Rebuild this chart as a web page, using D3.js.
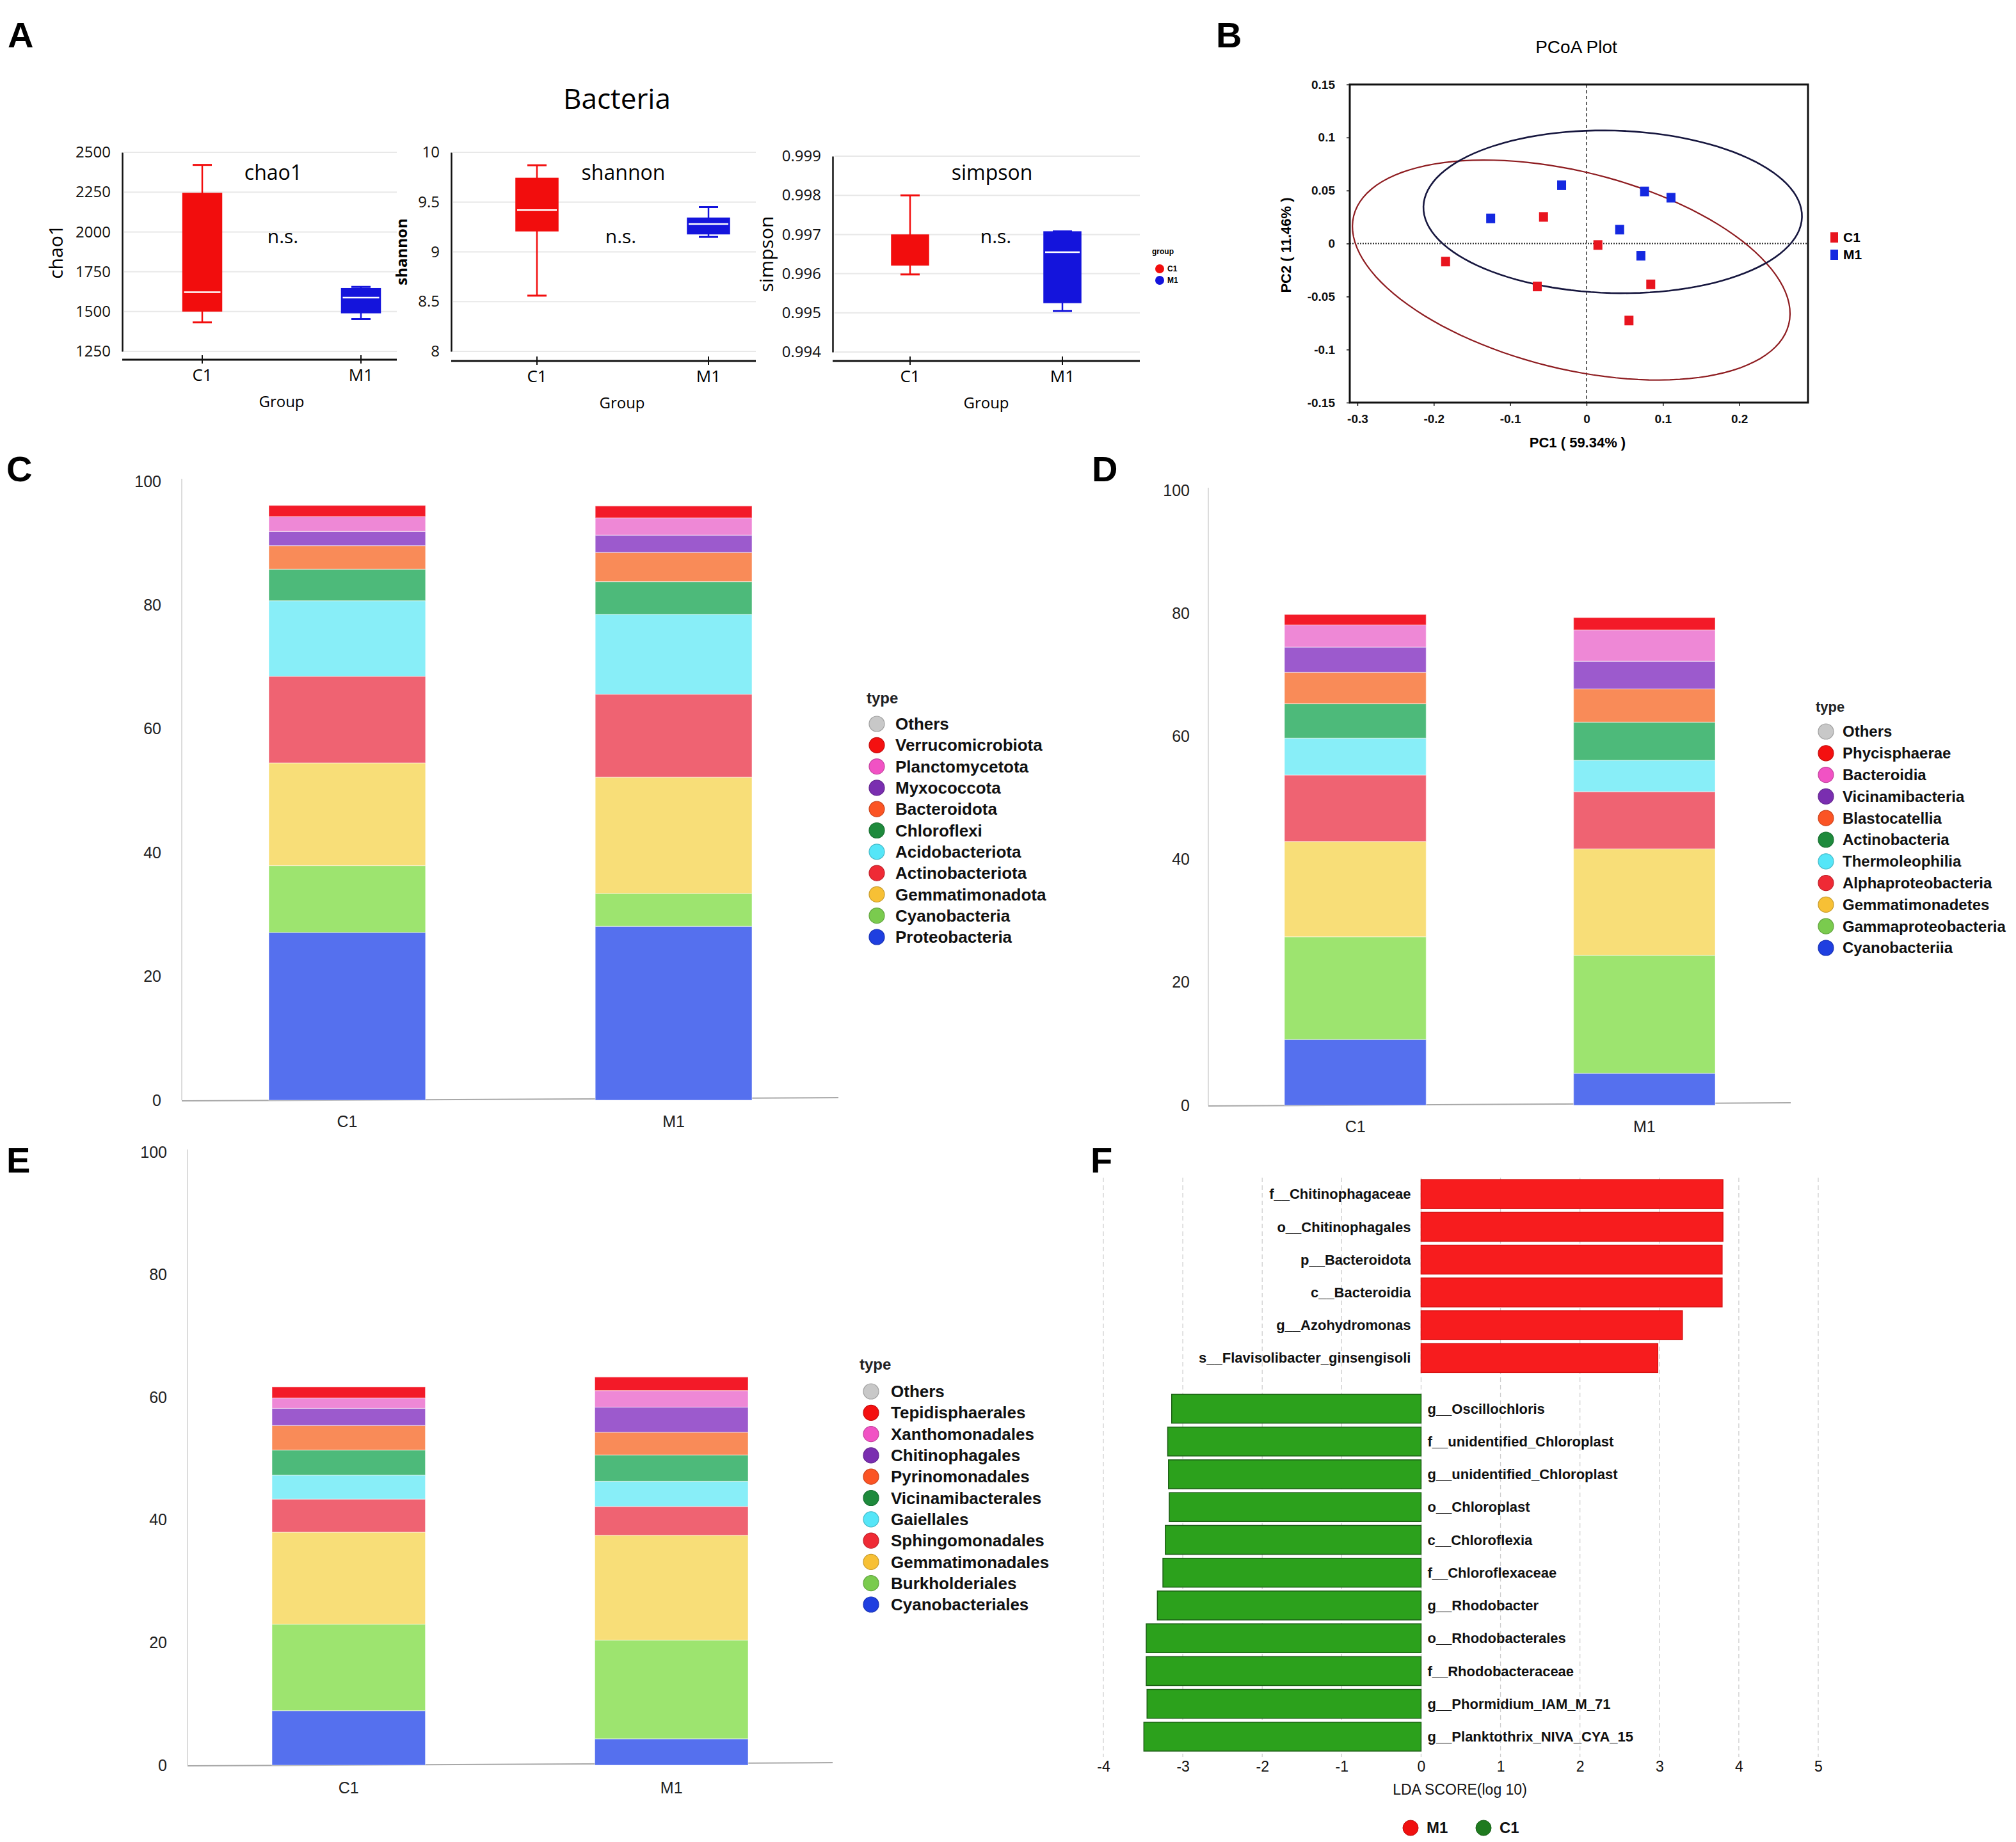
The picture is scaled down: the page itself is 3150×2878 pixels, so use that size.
<!DOCTYPE html>
<html>
<head>
<meta charset="utf-8">
<script src="https://cdn.jsdelivr.net/npm/d3@7"></script>
<style>
    body { margin: 0; background: #fff; }
    svg { display: block; }
</style>
</head>
<body>
<div id="chart"></div>
<script>
// ---------- data ----------
const groups = ['C1', 'M1']
const groupColors = ['#F20D0D', '#1414DC']

// box stats: [min, q1, median, q3, max] per group
const chao1Stats = [[1432, 1503, 1622, 2243, 2421], [1453, 1492, 1588, 1645, 1655]]
const shannonStats = [[8.56, 9.21, 9.42, 9.74, 9.87], [9.15, 9.18, 9.28, 9.34, 9.45]]
const simpsonStats = [[0.99598, 0.99622, 0.99699, 0.99699, 0.99800], [0.99505, 0.99526, 0.99655, 0.99707, 0.99708]]
const chao1Ticks = [1250, 1500, 1750, 2000, 2250, 2500]
const shannonTicks = [8, 8.5, 9, 9.5, 10]
const simpsonTicks = [0.994, 0.995, 0.996, 0.997, 0.998, 0.999]

// PCoA points [PC1, PC2]
const pcoaC1 = [[-0.0563, 0.0254], [0.0149, -0.0011], [-0.1845, -0.0167], [-0.0645, -0.0402], [0.0841, -0.0382], [0.0556, -0.0723]]
const pcoaM1 = [[-0.0326, 0.0553], [-0.1255, 0.0240], [0.0760, 0.0494], [0.1106, 0.0435], [0.0434, 0.0134], [0.0712, -0.0112]]
// ellipse: centre x, centre y, major axis vector, minor axis vector (data units)
const ellipseC1 = [-0.020, -0.025, 0.2848, -0.0512, -0.0312, -0.0902]
const ellipseM1 = [0.0343, 0.0299, 0.2478, -0.0050, -0.0029, -0.0766]
const pcoaXTicks = [-0.3, -0.2, -0.1, 0, 0.1, 0.2]
const pcoaYTicks = [-0.15, -0.1, -0.05, 0, 0.05, 0.1, 0.15]

// relative abundance, listed bottom to top
const phylumNames = ['Proteobacteria', 'Cyanobacteria', 'Gemmatimonadota', 'Actinobacteriota', 'Acidobacteriota', 'Chloroflexi', 'Bacteroidota', 'Myxococcota', 'Planctomycetota', 'Verrucomicrobiota']
const phylumC1 = [27.1, 10.8, 16.6, 14.0, 12.2, 5.1, 3.8, 2.3, 2.4, 1.8]
const phylumM1 = [28.1, 5.3, 18.8, 13.4, 12.9, 5.3, 4.7, 2.8, 2.8, 1.9]

const classNames = ['Cyanobacteriia', 'Gammaproteobacteria', 'Gemmatimonadetes', 'Alphaproteobacteria', 'Thermoleophilia', 'Actinobacteria', 'Blastocatellia', 'Vicinamibacteria', 'Bacteroidia', 'Phycisphaerae']
const classC1 = [10.7, 16.7, 15.5, 10.8, 6.0, 5.6, 5.1, 4.1, 3.6, 1.7]
const classM1 = [5.2, 19.2, 17.3, 9.3, 5.1, 6.2, 5.4, 4.5, 5.1, 2.0]

const orderNames = ['Cyanobacteriales', 'Burkholderiales', 'Gemmatimonadales', 'Sphingomonadales', 'Gaiellales', 'Vicinamibacterales', 'Pyrinomonadales', 'Chitinophagales', 'Xanthomonadales', 'Tepidisphaerales']
const orderC1 = [8.9, 14.1, 15.0, 5.4, 3.9, 4.1, 4.0, 2.8, 1.7, 1.8]
const orderM1 = [4.3, 16.1, 17.1, 4.7, 4.1, 4.3, 3.7, 4.1, 2.7, 2.2]

const abundanceTicks = [0, 20, 40, 60, 80, 100]
const segmentColors = ['#5570EE', '#9DE46F', '#F8DE78', '#EF6372', '#88EEF8', '#4DBA7A', '#F98B58', '#9C5ACD', '#EE88D6', '#F31A28']
const dotColors = ['#1F3FE0', '#7ACB4E', '#F7C035', '#EF2A35', '#55E6F8', '#1E8A3C', '#FB5424', '#7A2EB0', '#F152C4', '#F41010']

// LEfSe
const ldaNames = ['f__Chitinophagaceae', 'o__Chitinophagales', 'p__Bacteroidota', 'c__Bacteroidia', 'g__Azohydromonas', 's__Flavisolibacter_ginsengisoli',
    'g__Oscillochloris', 'f__unidentified_Chloroplast', 'g__unidentified_Chloroplast', 'o__Chloroplast', 'c__Chloroflexia', 'f__Chloroflexaceae',
    'g__Rhodobacter', 'o__Rhodobacterales', 'f__Rhodobacteraceae', 'g__Phormidium_IAM_M_71', 'g__Planktothrix_NIVA_CYA_15']
const ldaScores = [3.80, 3.80, 3.79, 3.79, 3.29, 2.98, -3.14, -3.19, -3.18, -3.17, -3.22, -3.25, -3.32, -3.46, -3.46, -3.45, -3.49]
const ldaTicks = [-4, -3, -2, -1, 0, 1, 2, 3, 4, 5]

// ---------- layout ----------
const SANS = '"Liberation Sans", Arial, sans-serif'
const NARROW = '"Liberation Sans Narrow", "Liberation Sans", Arial, sans-serif'
const MYRIAD = '"Open Sans", "Noto Sans", sans-serif'

const svg = d3.select('#chart').append('svg')
    .attr('width', 3150)
    .attr('height', 2878)
    .attr('viewBox', '0 0 3150 2878')
    .style('background', '#fff')

const letters = [['A', 12, 74], ['B', 1900, 74], ['C', 10, 752], ['D', 1706, 752], ['E', 10, 1832], ['F', 1704, 1832]]
svg.selectAll('text.letter').data(letters).join('text')
    .attr('class', 'letter')
    .attr('x', d => d[1])
    .attr('y', d => d[2])
    .attr('font-family', SANS)
    .attr('font-weight', 'bold')
    .attr('font-size', 56)
    .text(d => d[0])

// ---------- A: alpha diversity ----------
svg.append('text')
    .attr('x', 964).attr('y', 170)
    .attr('text-anchor', 'middle')
    .attr('font-family', MYRIAD)
    .attr('font-size', 44)
    .text('Bacteria')

function boxPanel(o) {
    const y = d3.scaleLinear().domain(o.domain).range([o.bottom, o.top])
    const x = d3.scalePoint().domain(groups).range(o.centers)
    const g = svg.append('g').attr('font-family', MYRIAD)

    g.append('g').selectAll('line').data(o.ticks).join('line')
        .attr('x1', o.left + 3).attr('x2', o.right)
        .attr('y1', d => y(d)).attr('y2', d => y(d))
        .attr('stroke', '#e8e8e8').attr('stroke-width', 2)

    const ax = g.append('g')
        .attr('transform', `translate(${o.left},0)`)
        .call(d3.axisLeft(y).tickValues(o.ticks).tickSize(0).tickPadding(18).tickFormat(o.format))
    ax.select('.domain').attr('stroke', '#111').attr('stroke-width', 2.5)
    ax.selectAll('text').attr('font-size', 24).attr('fill', '#111').attr('font-family', MYRIAD)

    g.append('line')
        .attr('x1', o.left).attr('x2', o.right)
        .attr('y1', o.base).attr('y2', o.base)
        .attr('stroke', '#111').attr('stroke-width', 3)
    g.selectAll('line.gt').data(groups).join('line')
        .attr('class', 'gt')
        .attr('x1', d => x(d)).attr('x2', d => x(d))
        .attr('y1', o.base - 7).attr('y2', o.base + 6)
        .attr('stroke', '#111').attr('stroke-width', 2)
    g.selectAll('text.gl').data(groups).join('text')
        .attr('class', 'gl')
        .attr('x', d => x(d)).attr('y', o.base + 33)
        .attr('text-anchor', 'middle')
        .attr('font-size', 26)
        .text(d => d)
    g.append('text')
        .attr('x', o.groupX).attr('y', o.base + 74)
        .attr('text-anchor', 'middle').attr('font-size', 24)
        .text('Group')
    g.append('text')
        .attr('transform', `translate(${o.labelX},${(o.top + o.bottom) / 2}) rotate(-90)`)
        .attr('text-anchor', 'middle')
        .attr('font-size', o.labelSize)
        .attr('font-weight', o.labelWeight)
        .text(o.name)
    g.append('text')
        .attr('x', o.titleX).attr('y', 281)
        .attr('text-anchor', 'middle').attr('font-size', 32)
        .text(o.name)
    g.append('text')
        .attr('x', o.nsX).attr('y', 380)
        .attr('text-anchor', 'middle').attr('font-size', 30)
        .text('n.s.')

    o.stats.forEach((s, i) => {
        const cx = x(groups[i])
        const c = groupColors[i]
        const hw = o.boxWidth / 2
        g.append('line').attr('x1', cx).attr('x2', cx).attr('y1', y(s[4])).attr('y2', y(s[3]))
            .attr('stroke', c).attr('stroke-width', 2.5)
        g.append('line').attr('x1', cx).attr('x2', cx).attr('y1', y(s[1])).attr('y2', y(s[0]))
            .attr('stroke', c).attr('stroke-width', 2.5)
        g.selectAll(null).data([s[0], s[4]]).join('line')
            .attr('x1', cx - 15).attr('x2', cx + 15)
            .attr('y1', d => y(d)).attr('y2', d => y(d))
            .attr('stroke', c).attr('stroke-width', 3)
        g.append('rect')
            .attr('x', cx - hw).attr('y', y(s[3]))
            .attr('width', o.boxWidth).attr('height', y(s[1]) - y(s[3]))
            .attr('fill', c).attr('stroke', c).attr('stroke-width', 1.5)
        if (s[2] > s[1] && s[2] < s[3]) {
            g.append('line')
                .attr('x1', cx - hw + 2).attr('x2', cx + hw - 2)
                .attr('y1', y(s[2])).attr('y2', y(s[2]))
                .attr('stroke', '#fff').attr('stroke-width', 2.5)
        }
    })
}

boxPanel({
    name: 'chao1', stats: chao1Stats, domain: [1250, 2500], ticks: chao1Ticks, format: d3.format('d'),
    left: 191, right: 620, top: 238, bottom: 549, base: 562, centers: [316, 564], boxWidth: 61,
    labelX: 98, labelSize: 30, labelWeight: 'normal', titleX: 427, nsX: 442, groupX: 440
})
boxPanel({
    name: 'shannon', stats: shannonStats, domain: [8, 10], ticks: shannonTicks, format: d => String(d),
    left: 705, right: 1181, top: 238, bottom: 549, base: 564, centers: [839, 1107], boxWidth: 66,
    labelX: 636, labelSize: 24, labelWeight: 'bold', titleX: 974, nsX: 970, groupX: 972
})
boxPanel({
    name: 'simpson', stats: simpsonStats, domain: [0.994, 0.999], ticks: simpsonTicks, format: d3.format('.3f'),
    left: 1301, right: 1781, top: 244, bottom: 550, base: 564, centers: [1422, 1660], boxWidth: 58,
    labelX: 1208, labelSize: 30, labelWeight: 'normal', titleX: 1550, nsX: 1556, groupX: 1541
})

// group legend of panel A
const legA = svg.append('g').attr('font-family', SANS).attr('font-weight', 'bold')
legA.append('text').attr('x', 1800).attr('y', 397).attr('font-size', 12).text('group')
legA.selectAll('circle').data(groups).join('circle')
    .attr('cx', 1812).attr('cy', (d, i) => 420 + i * 18).attr('r', 7)
    .attr('fill', (d, i) => groupColors[i])
legA.selectAll('text.l').data(groups).join('text')
    .attr('class', 'l')
    .attr('x', 1824).attr('y', (d, i) => 424 + i * 18)
    .attr('font-size', 12).text(d => d)

// ---------- B: PCoA ----------
const px = d3.scaleLinear().domain([-0.31, 0.29]).range([2109, 2825])
const py = d3.scaleLinear().domain([-0.15, 0.15]).range([629, 132])
const gB = svg.append('g').attr('font-family', SANS)

gB.append('text').attr('x', 2463).attr('y', 83).attr('text-anchor', 'middle')
    .attr('font-size', 28).text('PCoA Plot')

gB.append('line').attr('x1', px(0)).attr('x2', px(0)).attr('y1', py(0.15)).attr('y2', py(-0.15))
    .attr('stroke', '#333').attr('stroke-width', 1.5).attr('stroke-dasharray', '5,4')
gB.append('line').attr('x1', px(-0.31)).attr('x2', px(0.29)).attr('y1', py(0)).attr('y2', py(0))
    .attr('stroke', '#333').attr('stroke-width', 1.8).attr('stroke-dasharray', '2,2')

const ellipseLine = d3.line().curve(d3.curveLinearClosed)
function ellipsePoints(e) {
    return d3.range(0, 360, 3).map(a => {
        const t = a * Math.PI / 180
        return [px(e[0] + e[2] * Math.cos(t) + e[4] * Math.sin(t)), py(e[1] + e[3] * Math.cos(t) + e[5] * Math.sin(t))]
    })
}
gB.append('path').attr('d', ellipseLine(ellipsePoints(ellipseC1)))
    .attr('fill', 'none').attr('stroke', '#8E1C20').attr('stroke-width', 2.2)
gB.append('path').attr('d', ellipseLine(ellipsePoints(ellipseM1)))
    .attr('fill', 'none').attr('stroke', '#16163E').attr('stroke-width', 2.6)

const pcoaColors = ['#E8141E', '#1428E0']
;[pcoaC1, pcoaM1].forEach((pts, i) => {
    gB.selectAll(null).data(pts).join('rect')
        .attr('x', d => px(d[0]) - 7).attr('y', d => py(d[1]) - 7)
        .attr('width', 14).attr('height', 15)
        .attr('fill', pcoaColors[i])
})

gB.append('rect').attr('x', px(-0.31)).attr('y', py(0.15))
    .attr('width', px(0.29) - px(-0.31)).attr('height', py(-0.15) - py(0.15))
    .attr('fill', 'none').attr('stroke', '#111').attr('stroke-width', 3)

const bY = gB.append('g').attr('transform', `translate(${px(-0.31)},0)`)
    .call(d3.axisLeft(py).tickValues(pcoaYTicks).tickSize(5).tickPadding(18).tickFormat(d => String(d)))
const bX = gB.append('g').attr('transform', `translate(0,${py(-0.15)})`)
    .call(d3.axisBottom(px).tickValues(pcoaXTicks).tickSize(5).tickPadding(14).tickFormat(d => String(d)))
;[bX, bY].forEach(a => {
    a.select('.domain').remove()
    a.selectAll('line').attr('stroke', '#111').attr('stroke-width', 1.5)
    a.selectAll('text').attr('font-family', NARROW).attr('font-weight', 'bold').attr('font-size', 19).attr('fill', '#111')
})
gB.append('text').attr('x', 2465).attr('y', 699).attr('text-anchor', 'middle')
    .attr('font-family', NARROW).attr('font-size', 22).attr('font-weight', 'bold').text('PC1 ( 59.34% )')
gB.append('text').attr('transform', 'translate(2017,383) rotate(-90)').attr('text-anchor', 'middle')
    .attr('font-family', NARROW).attr('font-size', 22).attr('font-weight', 'bold').text('PC2 ( 11.46% )')

gB.selectAll('rect.leg').data(groups).join('rect')
    .attr('class', 'leg')
    .attr('x', 2860).attr('y', (d, i) => 363 + i * 27)
    .attr('width', 12).attr('height', 16)
    .attr('fill', (d, i) => pcoaColors[i])
gB.selectAll('text.leg').data(groups).join('text')
    .attr('class', 'leg')
    .attr('x', 2880).attr('y', (d, i) => 378 + i * 27)
    .attr('font-family', NARROW).attr('font-weight', 'bold').attr('font-size', 21)
    .text(d => d)

// ---------- C, D, E: stacked bars ----------
function stackPanel(o) {
    const rows = groups.map((grp, i) => {
        const r = { group: grp }
        o.names.forEach((n, j) => { r[n] = o.values[i][j] })
        return r
    })
    const series = d3.stack().keys(o.names)(rows)
    const x = d3.scaleBand().domain(groups).range(o.xRange).paddingInner(o.pad)
    const y = d3.scaleLinear().domain([0, 100]).range([o.bottom, o.top])
    const g = svg.append('g')

    g.append('line').attr('x1', o.axisX).attr('x2', o.axisX).attr('y1', y(100) - 4).attr('y2', y(0))
        .attr('stroke', '#d0d0d0').attr('stroke-width', 1.5)
    g.append('line').attr('x1', o.axisX).attr('x2', o.axisRight).attr('y1', y(0) + 1).attr('y2', y(0) - 4)
        .attr('stroke', '#a8a8a8').attr('stroke-width', 2)

    const ay = g.append('g').attr('transform', `translate(${o.axisX},0)`)
        .call(d3.axisLeft(y).tickValues(abundanceTicks).tickSize(0).tickPadding(o.tickPad))
    ay.select('.domain').remove()
    ay.selectAll('text').attr('font-family', NARROW).attr('font-size', 25).attr('fill', '#222')

    const ax = g.append('g').attr('transform', `translate(0,${y(0)})`)
        .call(d3.axisBottom(x).tickSize(0).tickPadding(o.labelPad))
    ax.select('.domain').remove()
    ax.selectAll('text').attr('font-family', NARROW).attr('font-size', 25).attr('fill', '#222')

    g.selectAll('g.layer').data(series).join('g')
        .attr('class', 'layer')
        .attr('fill', (d, i) => segmentColors[i])
        .selectAll('rect').data(d => d).join('rect')
        .attr('x', d => x(d.data.group))
        .attr('width', x.bandwidth())
        .attr('y', d => y(d[1]))
        .attr('height', d => y(d[0]) - y(d[1]))
        .attr('stroke', '#ffffff').attr('stroke-opacity', 0.45).attr('stroke-width', 1.2)

    const items = ['Others'].concat(o.names.slice().reverse())
    const colors = ['#C8C8C8'].concat(dotColors.slice().reverse())
    const leg = g.append('g').attr('font-family', SANS).attr('font-weight', 'bold')
    leg.append('text').attr('x', o.legX).attr('y', o.legTitleY).attr('dy', '0.35em')
        .attr('font-size', o.legFont - 2).attr('fill', '#222').text('type')
    leg.selectAll('circle').data(items).join('circle')
        .attr('cx', o.dotX).attr('cy', (d, i) => o.legY + i * o.legStep)
        .attr('r', 12)
        .attr('fill', (d, i) => colors[i])
        .attr('stroke', (d, i) => d3.color(colors[i]).darker(0.6)).attr('stroke-width', 1.2)
    leg.selectAll('text.it').data(items).join('text')
        .attr('class', 'it')
        .attr('x', o.textX).attr('y', (d, i) => o.legY + i * o.legStep)
        .attr('dy', '0.35em')
        .attr('font-size', o.legFont).attr('fill', '#111')
        .text(d => d)
}

stackPanel({
    names: phylumNames, values: [phylumC1, phylumM1],
    xRange: [420, 1175], pad: 0.52, top: 752, bottom: 1719, axisX: 284, axisRight: 1310, tickPad: 32, labelPad: 24,
    legX: 1354, legTitleY: 1091, legY: 1131, legStep: 33.3, dotX: 1370, textX: 1399, legFont: 26
})
stackPanel({
    names: classNames, values: [classC1, classM1],
    xRange: [2007, 2680], pad: 0.51, top: 766, bottom: 1727, axisX: 1888, axisRight: 2798, tickPad: 29, labelPad: 24,
    legX: 2837, legTitleY: 1104, legY: 1143, legStep: 33.8, dotX: 2853, textX: 2879, legFont: 24
})
stackPanel({
    names: orderNames, values: [orderC1, orderM1],
    xRange: [425, 1169], pad: 0.525, top: 1800, bottom: 2758, axisX: 293, axisRight: 1301, tickPad: 32, labelPad: 26,
    legX: 1343, legTitleY: 2132, legY: 2174, legStep: 33.3, dotX: 1361, textX: 1392, legFont: 26
})

// ---------- F: LDA ----------
const lx = d3.scaleLinear().domain([-4, 5]).range([1724, 2841])
const ly = d3.scaleBand().domain(ldaNames).range([1840, 2711]).paddingInner(0.12).paddingOuter(0.06)
const gap = 28
const gF = svg.append('g').attr('font-family', SANS)

gF.selectAll('line.grid').data(ldaTicks).join('line')
    .attr('class', 'grid')
    .attr('x1', d => lx(d)).attr('x2', d => lx(d))
    .attr('y1', 1840).attr('y2', 2745)
    .attr('stroke', '#cfcfcf').attr('stroke-width', 1.3).attr('stroke-dasharray', '7,5')

gF.selectAll('rect.bar').data(ldaScores).join('rect')
    .attr('class', 'bar')
    .attr('x', d => Math.min(lx(0), lx(d)))
    .attr('width', d => Math.abs(lx(d) - lx(0)))
    .attr('y', (d, i) => ly(ldaNames[i]) + (d < 0 ? gap : 0))
    .attr('height', ly.bandwidth())
    .attr('fill', d => d > 0 ? '#F71C1E' : '#2CA11C')
    .attr('stroke', d => d > 0 ? '#D81212' : '#1B5E14')
    .attr('stroke-width', 1.5)

gF.selectAll('text.lab').data(ldaScores).join('text')
    .attr('class', 'lab')
    .attr('x', d => d > 0 ? lx(0) - 16 : lx(0) + 10)
    .attr('y', (d, i) => ly(ldaNames[i]) + ly.bandwidth() / 2 + (d < 0 ? gap : 0))
    .attr('dy', '0.35em')
    .attr('text-anchor', d => d > 0 ? 'end' : 'start')
    .attr('font-weight', 'bold').attr('font-size', 22).attr('fill', '#111')
    .text((d, i) => ldaNames[i])

const fx = gF.append('g').attr('transform', 'translate(0,2746)')
    .call(d3.axisBottom(lx).tickValues(ldaTicks).tickSize(0).tickPadding(6).tickFormat(d => String(d)))
fx.select('.domain').remove()
fx.selectAll('text').attr('font-family', NARROW).attr('font-size', 23).attr('fill', '#111')

gF.append('text').attr('x', 2281).attr('y', 2804).attr('text-anchor', 'middle')
    .attr('font-size', 23).attr('fill', '#111').text('LDA SCORE(log 10)')

const ldaLegend = [['M1', '#F01010', 2204], ['C1', '#1F7A1F', 2318]]
gF.selectAll('circle.lg').data(ldaLegend).join('circle')
    .attr('class', 'lg')
    .attr('cx', d => d[2]).attr('cy', 2856).attr('r', 12)
    .attr('fill', d => d[1]).attr('stroke', d => d3.color(d[1]).darker(0.7))
gF.selectAll('text.lg').data(ldaLegend).join('text')
    .attr('class', 'lg')
    .attr('x', d => d[2] + 25).attr('y', 2856).attr('dy', '0.35em')
    .attr('font-weight', 'bold').attr('font-size', 24).attr('fill', '#111')
    .text(d => d[0])
</script>
</body>
</html>
